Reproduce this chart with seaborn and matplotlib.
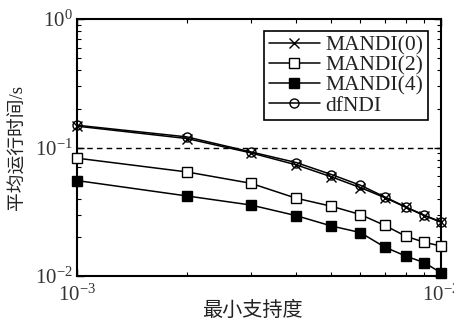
import numpy as np
import pandas as pd
import matplotlib
matplotlib.use("Agg")
import matplotlib.pyplot as plt
import seaborn as sns
from matplotlib.ticker import LogLocator, NullFormatter

support = [0.001, 0.002, 0.003, 0.004, 0.005, 0.006, 0.007, 0.008, 0.009, 0.010]
mandi0 = [0.1466, 0.1175, 0.0909, 0.0733, 0.0591, 0.0488, 0.0408, 0.0343, 0.0295, 0.0262]
mandi2 = [0.0826, 0.0646, 0.0527, 0.0403, 0.0349, 0.0301, 0.0248, 0.0204, 0.0183, 0.0171]
mandi4 = [0.0553, 0.0420, 0.0357, 0.0295, 0.0245, 0.0218, 0.0168, 0.0143, 0.0127, 0.0106]
dfndi = [0.149, 0.121, 0.0925, 0.0764, 0.0616, 0.0509, 0.0413, 0.0345, 0.0297, 0.0264]
series_names = ["MANDI(0)", "MANDI(2)", "MANDI(4)", "dfNDI"]
threshold = 0.1
xlabel = "最小支持度"
ylabel = "平均运行时间/s"

sns.set_style("ticks")
plt.rcParams['font.family'] = ['Liberation Serif', 'Noto Sans CJK SC']
plt.rcParams['mathtext.fontset'] = 'stix'

fig = plt.figure(figsize=(4.54, 3.24), dpi=100)
ax = fig.add_axes([77/454, 1-276/324, (441-77)/454, (276-19)/324])

styles = [
    dict(marker='x', mfc='none', mec='black', ms=6.5, mew=1.0),
    dict(marker='s', mfc='white', mec='black', ms=6.5, mew=1.0),
    dict(marker='s', mfc='black', mec='black', ms=6.5, mew=1.0),
    dict(marker='o', mfc='none', mec='black', ms=6.5, mew=1.0),
]
data = [mandi0, mandi2, mandi4, dfndi]
for name, vals, st in zip(series_names, data, styles):
    df = pd.DataFrame({"x": support, "y": vals})
    sns.lineplot(data=df, x="x", y="y", ax=ax, color='black', lw=1.1,
                 label=name, marker=st['marker'], markersize=st['ms'],
                 markerfacecolor=st['mfc'], markeredgecolor=st['mec'],
                 markeredgewidth=st['mew'], clip_on=False, zorder=3)

ax.axhline(threshold, color='black', ls=(0, (4, 3)), lw=1.0)
ax.set_xscale('log')
ax.set_yscale('log')
ax.set_xlim(1e-3, 1e-2)
ax.set_ylim(1e-2, 1e0)
ax.xaxis.set_minor_locator(LogLocator(base=10, subs=np.arange(2, 10)))
ax.yaxis.set_minor_locator(LogLocator(base=10, subs=np.arange(2, 10)))
ax.xaxis.set_minor_formatter(NullFormatter())
ax.yaxis.set_minor_formatter(NullFormatter())
ax.tick_params(which='both', direction='in', top=True, right=True, color='black')
ax.tick_params(which='major', length=5, width=1.0, labelsize=15, labelcolor='#333333')
ax.tick_params(axis='x', which='major', pad=6.5)
ax.tick_params(axis='y', which='major', pad=3)
ax.tick_params(which='minor', length=3, width=0.8)
for sp in ax.spines.values():
    sp.set_linewidth(1.5)
    sp.set_color('black')

ax.set_xlabel(xlabel, fontsize=14.5, color='#222222')
ax.xaxis.set_label_coords((252-77)/364, -0.10)
ax.set_ylabel(ylabel, fontsize=13.5, color='#222222', labelpad=6)

leg = ax.legend(loc='upper right', bbox_to_anchor=(0.964, 0.953), fontsize=15.5,
                frameon=True, fancybox=False, edgecolor='black', framealpha=1,
                labelspacing=0.0, handlelength=2.4, handletextpad=0.25,
                borderpad=0.2, borderaxespad=0)
leg.get_frame().set_linewidth(1.2)
for t in leg.get_texts():
    t.set_color('#222222')

fig.savefig("out.png", dpi=100)
